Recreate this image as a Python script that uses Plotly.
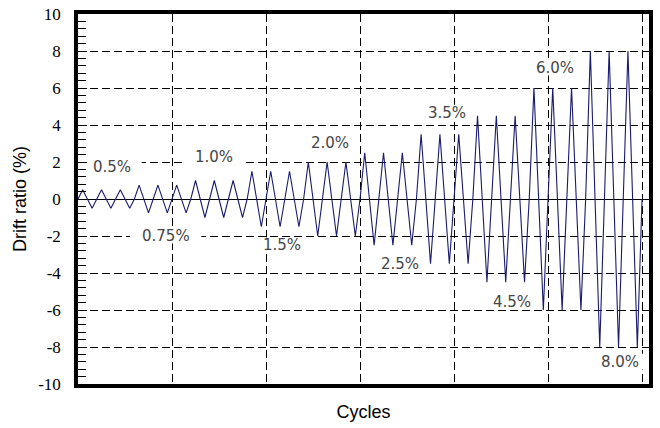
import plotly.graph_objects as go

# Loading protocol: drift-ratio amplitude (%) of each of the 30 cycles
cycle_amplitudes = [0.5, 0.5, 0.5,
                    0.75, 0.75, 0.75,
                    1.0, 1.0, 1.0,
                    1.5, 1.5, 1.5,
                    2.0, 2.0, 2.0,
                    2.5, 2.5, 2.5,
                    3.5, 3.5, 3.5,
                    4.5, 4.5, 4.5,
                    6.0, 6.0, 6.0,
                    8.0, 8.0, 8.0]

# Level labels and where they sit (cycle, drift %)
level_labels = ["0.5%", "0.75%", "1.0%", "1.5%", "2.0%", "2.5%", "3.5%", "4.5%", "6.0%", "8.0%"]
label_x = [1.80, 4.66, 7.21, 10.86, 13.41, 17.12, 19.60, 23.10, 25.38, 28.83]
label_y = [1.75, -1.99, 2.29, -2.50, 3.04, -3.54, 4.67, -5.55, 7.10, -8.79]

y_tick_vals = [-10, -8, -6, -4, -2, 0, 2, 4, 6, 8, 10]
y_tick_text = ["-10", "-8", "-6", "-4", "-2", "0", "2", "4", "6", "8", "10"]
y_minor_step = 0.4

# Triangle-wave history: each cycle goes 0 -> +A -> -A -> 0
xs, ys = [], []
for i, a in enumerate(cycle_amplitudes):
    xs += [i, i + 0.25, i + 0.75]
    ys += [0, a, -a]
xs.append(len(cycle_amplitudes))
ys.append(0)

fig = go.Figure()
fig.add_trace(go.Scatter(x=xs, y=ys, mode="lines",
                         line=dict(color="#1a1a70", width=1.1),
                         showlegend=False, hoverinfo="skip"))
# invisible trace bound to the overlay axis that carries the minor ticks
fig.add_trace(go.Scatter(x=[xs[0]], y=[ys[0]], yaxis="y2", mode="lines",
                         line=dict(width=0), showlegend=False, hoverinfo="skip"))

shapes = []
annotations = []
for t, lx, ly in zip(level_labels, label_x, label_y):
    hw = 0.62 * len(t) * 0.5 + 0.35
    shapes.append(dict(type="rect", xref="x", yref="y",
                       x0=lx - hw, x1=lx + hw, y0=ly - 0.42, y1=ly + 0.42,
                       fillcolor="white", line=dict(width=0), layer="between"))
    annotations.append(dict(x=lx, y=ly, xref="x", yref="y", text=t, showarrow=False,
                            font=dict(family="DejaVu Sans", size=15, color="#454545")))

fig.update_layout(
    width=660, height=428,
    margin=dict(l=78, r=11, t=14, b=44),
    paper_bgcolor="white", plot_bgcolor="white",
    shapes=shapes, annotations=annotations,
    xaxis=dict(range=[0, 30.37], tick0=0, dtick=5, showticklabels=False, ticks="",
               automargin=False,
               showgrid=True, gridcolor="black", gridwidth=1, griddash="8px,4px",
               zeroline=False, showline=True, linecolor="black", linewidth=3.5, mirror=True,
               title=dict(text="Cycles", standoff=20,
                          font=dict(family="Liberation Sans, Arial", size=18, color="black"))),
    yaxis=dict(range=[-10, 10], tickmode="array", tickvals=y_tick_vals, ticktext=y_tick_text,
               automargin=False,
               ticks="inside", ticklen=9, tickwidth=1, tickcolor="black",
               ticklabelstandoff=10,
               tickfont=dict(family="Liberation Serif, Times New Roman", size=17, color="black"),
               showgrid=True, gridcolor="black", gridwidth=1, griddash="8px,4px",
               zeroline=True, zerolinecolor="black", zerolinewidth=1,
               showline=True, linecolor="black", linewidth=3.5, mirror=True,
               title=dict(text="Drift ratio (%)", standoff=8,
                          font=dict(family="Liberation Sans, Arial", size=18, color="black"))),
    yaxis2=dict(range=[-10, 10], overlaying="y", side="left", anchor="x",
                tickmode="linear", tick0=0, dtick=y_minor_step,
                ticks="inside", ticklen=8, tickwidth=1, tickcolor="black",
                showticklabels=False, showgrid=False, zeroline=False, showline=False,
                automargin=False),
)

fig.write_html("out.html")
